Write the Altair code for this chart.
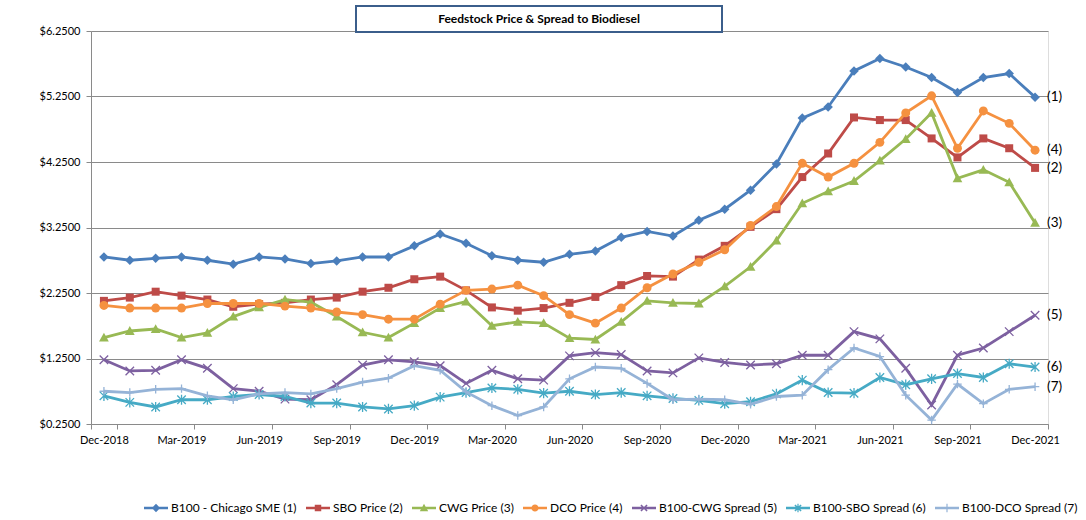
import altair as alt
import pandas as pd

months = pd.date_range("2018-12-01", periods=37, freq="MS").strftime("%b-%Y").tolist()

series_names = [
    "B100 - Chicago SME (1)",
    "SBO Price (2)",
    "CWG Price (3)",
    "DCO Price (4)",
    "B100-CWG Spread (5)",
    "B100-SBO Spread (6)",
    "B100-DCO Spread (7)",
]
end_labels = ["(1)", "(2)", "(3)", "(4)", "(5)", "(6)", "(7)"]
chart_title = "Feedstock Price & Spread to Biodiesel"

b100 = [2.80, 2.75, 2.78, 2.80, 2.75, 2.69, 2.80, 2.77, 2.70, 2.74, 2.80, 2.80, 2.97,
        3.15, 3.01, 2.82, 2.75, 2.72, 2.84, 2.89, 3.10, 3.19, 3.12, 3.36, 3.53, 3.82,
        4.22, 4.92, 5.09, 5.64, 5.83, 5.70, 5.54, 5.31, 5.54, 5.60, 5.24]
sbo = [2.13, 2.18, 2.27, 2.21, 2.15, 2.04, 2.08, 2.10, 2.15, 2.18, 2.27, 2.33, 2.46,
       2.50, 2.29, 2.03, 1.98, 2.02, 2.10, 2.19, 2.37, 2.51, 2.50, 2.76, 2.97, 3.26,
       3.53, 4.02, 4.38, 4.93, 4.89, 4.89, 4.61, 4.32, 4.61, 4.46, 4.16]
cwg = [1.57, 1.67, 1.70, 1.57, 1.64, 1.89, 2.03, 2.15, 2.11, 1.89, 1.65, 1.57, 1.79,
       2.02, 2.12, 1.75, 1.81, 1.79, 1.56, 1.54, 1.81, 2.13, 2.10, 2.09, 2.35, 2.65,
       3.05, 3.62, 3.80, 3.96, 4.27, 4.60, 5.00, 4.00, 4.13, 3.94, 3.32]
dco = [2.06, 2.02, 2.02, 2.02, 2.09, 2.09, 2.09, 2.05, 2.02, 1.96, 1.92, 1.85, 1.85,
       2.08, 2.29, 2.31, 2.37, 2.21, 1.92, 1.79, 2.02, 2.33, 2.54, 2.72, 2.91, 3.28,
       3.57, 4.23, 4.02, 4.23, 4.55, 5.00, 5.26, 4.46, 5.03, 4.84, 4.43]
spread_cwg = [1.23, 1.06, 1.07, 1.23, 1.10, 0.79, 0.75, 0.63, 0.62, 0.85, 1.15, 1.23, 1.20,
              1.14, 0.87, 1.07, 0.94, 0.92, 1.29, 1.34, 1.31, 1.06, 1.03, 1.26, 1.19, 1.15,
              1.17, 1.30, 1.30, 1.66, 1.55, 1.10, 0.54, 1.30, 1.41, 1.66, 1.91]
spread_sbo = [0.68, 0.58, 0.51, 0.62, 0.62, 0.67, 0.70, 0.67, 0.57, 0.57, 0.51, 0.48, 0.53,
              0.66, 0.73, 0.80, 0.78, 0.72, 0.75, 0.70, 0.73, 0.68, 0.64, 0.61, 0.56, 0.59,
              0.71, 0.92, 0.73, 0.72, 0.96, 0.85, 0.94, 1.02, 0.96, 1.17, 1.12]
spread_dco = [0.75, 0.73, 0.78, 0.79, 0.68, 0.62, 0.71, 0.73, 0.71, 0.79, 0.89, 0.95, 1.14,
              1.07, 0.74, 0.53, 0.38, 0.51, 0.94, 1.12, 1.10, 0.87, 0.62, 0.63, 0.62, 0.55,
              0.67, 0.69, 1.08, 1.41, 1.28, 0.69, 0.31, 0.86, 0.56, 0.78, 0.82]

all_values = [b100, sbo, cwg, dco, spread_cwg, spread_sbo, spread_dco]

colors = ["#4A7EBB", "#BE4B48", "#98B954", "#F59140", "#7D60A0", "#46AAC5", "#95B3D7"]

plot_shapes = [
    "M0,-1L1,0L0,1L-1,0Z",
    "M-1,-1H1V1H-1Z",
    "M0,-1L1,0.8H-1Z",
    "circle",
    "M-1,-1L1,1M-1,1L1,-1",
    "M-1,-1L1,1M-1,1L1,-1M0,-1.2V1.2",
    "M0,-1V1M-1,0H1",
]
plot_filled = [True, True, True, True, False, False, False]
plot_sizes = [90, 64, 95, 80, 72, 72, 72]

# legend symbols: a thin line bar plus the marker, all filled, same winding
LINE = "M-1,-0.1H1V0.1H-1Z"
XBARS = "M-0.3,-0.21L-0.21,-0.3L0.3,0.21L0.21,0.3Z M0.21,-0.3L0.3,-0.21L-0.21,0.3L-0.3,0.21Z"
VBAR = "M-0.05,-0.36H0.05V0.36H-0.05Z"
legend_paths = [
    LINE + " M0,-0.35L0.35,0L0,0.35L-0.35,0Z",
    LINE + " M-0.27,-0.27H0.27V0.27H-0.27Z",
    LINE + " M0,-0.35L0.35,0.28H-0.35Z",
    LINE + " M-0.3,0A0.3,0.3,0,1,1,0.3,0A0.3,0.3,0,1,1,-0.3,0Z",
    LINE + " " + XBARS,
    LINE + " " + XBARS + " " + VBAR,
    LINE + " " + VBAR,
]

rows = []
for name, vals in zip(series_names, all_values):
    for m, v in zip(months, vals):
        rows.append({"month": m, "series": name, "value": v})
df = pd.DataFrame(rows)

last_df = pd.DataFrame({
    "month": [months[-1]] * len(series_names),
    "series": series_names,
    "value": [v[-1] for v in all_values],
    "label": end_labels,
})

FONT = "Lato"
GRID = "#8a8a8a"

x_enc = alt.X(
    "month:N",
    sort=months,
    scale=alt.Scale(type="band", domain=months, paddingInner=0, paddingOuter=0),
    axis=alt.Axis(
        values=months[::3], tickBand="extent", labelAngle=0, title=None,
        domainColor=GRID, tickColor=GRID, tickSize=5, grid=False,
        labelFont=FONT, labelFontSize=11, labelColor="black", labelPadding=5,
    ),
)
y_enc = alt.Y(
    "value:Q",
    scale=alt.Scale(domain=[0.25, 6.25], nice=False, zero=False),
    axis=alt.Axis(
        values=[0.25, 1.25, 2.25, 3.25, 4.25, 5.25, 6.25], format="$.4f", title=None,
        grid=True, gridColor=GRID, gridWidth=1, domainColor=GRID, tickColor=GRID,
        tickSize=5, labelFont=FONT, labelFontSize=11, labelColor="black", labelPadding=6,
    ),
)
leg = alt.Legend(
    title=None, orient="none", legendX=52, legendY=464, direction="horizontal",
    columns=7, labelFont=FONT, labelFontSize=12, labelColor="black",
    symbolSize=576, labelOffset=2, columnPadding=8,
)
color_scale = alt.Scale(domain=series_names, range=colors)

# legend layer first so its legend definition is the one kept
legend_layer = alt.Chart(last_df).transform_filter(
    alt.datum.value < -100
).mark_point(filled=True, size=576, opacity=1).encode(
    x=x_enc, y=y_enc,
    color=alt.Color("series:N", scale=color_scale, legend=leg),
    shape=alt.Shape("series:N", scale=alt.Scale(domain=series_names, range=legend_paths), legend=leg),
)
layers = [legend_layer]

one = pd.DataFrame({"a": [0]})
box = alt.Chart(one).mark_rect(
    fill="white", stroke="#3b5e8b", strokeWidth=2
).encode(
    x=alt.value(265), x2=alt.value(631), y=alt.value(-25), y2=alt.value(1)
)
title_text = alt.Chart(one).mark_text(
    text=chart_title, font=FONT, fontSize=12, fontWeight="bold", color="black",
    align="center", baseline="middle",
).encode(x=alt.value(448), y=alt.value(-12))
layers += [box, title_text]

for i, name in enumerate(series_names):
    sub = df[df["series"] == name]
    line = alt.Chart(sub).mark_line(strokeWidth=2.8, color=colors[i]).encode(
        x=x_enc, y=y_enc,
    )
    pts = alt.Chart(sub).mark_point(
        shape=plot_shapes[i], filled=plot_filled[i], size=plot_sizes[i],
        strokeWidth=1.3, opacity=1, color=colors[i],
    ).encode(x=x_enc, y=y_enc)
    layers += [line, pts]

labels = alt.Chart(last_df).mark_text(
    align="left", dx=12, font=FONT, fontSize=13.5, color="black"
).encode(x=x_enc, y=y_enc, text="label:N")
layers.append(labels)

chart = alt.layer(*layers).properties(
    width=957,
    height=393,
    autosize=alt.AutoSizeParams(type="none"),
    padding={"left": 91, "top": 31, "right": 38, "bottom": 96},
).configure_view(stroke=None).configure(background="white")

chart.save("out.html", embed_options={"renderer": "svg", "actions": False})
